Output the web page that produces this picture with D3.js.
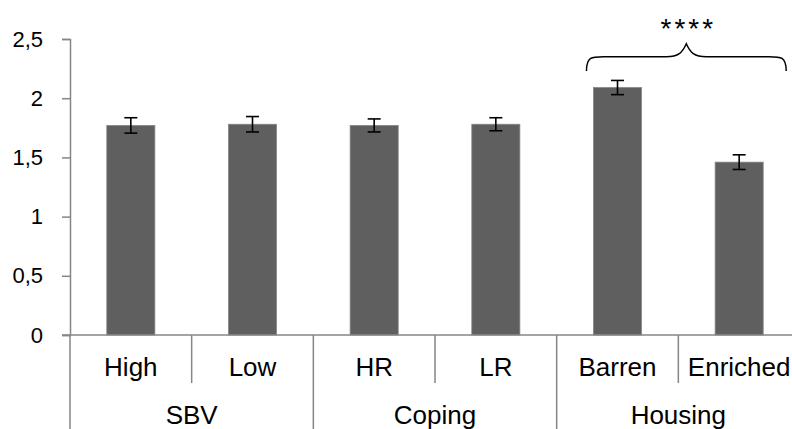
<!DOCTYPE html>
<html>
<head>
<meta charset="utf-8">
<script src="https://cdn.jsdelivr.net/npm/d3@7"></script>
<style>
  body { margin: 0; background: #fff; }
  svg { display: block; }
  .tick text { font-family: "Liberation Sans", Arial, sans-serif; }
</style>
</head>
<body>
<svg id="chart"></svg>
<script>
// chart values
var categories = ["High", "Low", "HR", "LR", "Barren", "Enriched"];
var groups = ["SBV", "SBV", "Coping", "Coping", "Housing", "Housing"];
var groupNames = ["SBV", "Coping", "Housing"];
var means = [1.77, 1.78, 1.77, 1.78, 2.09, 1.46];
var errors = [0.065, 0.065, 0.055, 0.055, 0.06, 0.062];
var yTicks = [0, 0.5, 1, 1.5, 2, 2.5];
var sigLabel = "****";

var width = 792, height = 429;
var margin = { left: 70, right: -8, top: 39, bottom: 94 };

var svg = d3.select("#chart").attr("width", width).attr("height", height);

var x = d3.scaleBand()
  .domain(categories)
  .range([margin.left, width - margin.right])
  .padding(0);
var xBar = d3.scaleBand()
  .domain(categories)
  .range([margin.left, width - margin.right])
  .paddingInner(0.605)
  .paddingOuter(0.3025);
var y = d3.scaleLinear()
  .domain([0, 2.5])
  .range([height - margin.bottom, margin.top]);

var axisColor = "#868686";
var labelFont = "Liberation Sans, Arial, sans-serif";

// y axis
var yAxis = svg.append("g")
  .attr("transform", `translate(${margin.left},0)`)
  .call(d3.axisLeft(y).tickValues(yTicks).tickSize(8).tickPadding(19)
    .tickFormat(d => String(d).replace(".", ",")));
yAxis.select(".domain").attr("stroke", axisColor).attr("stroke-width", 1.5);
yAxis.selectAll(".tick line").attr("stroke", axisColor).attr("stroke-width", 1.5);
yAxis.selectAll(".tick text").attr("font-size", 22).attr("fill", "#000");

// bars
svg.append("g").selectAll("rect")
  .data(categories)
  .enter()
  .append("rect")
  .attr("x", d => xBar(d))
  .attr("width", xBar.bandwidth())
  .attr("y", (d, i) => y(means[i]))
  .attr("height", (d, i) => y(0) - y(means[i]))
  .attr("fill", "#5f5f5f")
  .attr("stroke", "#858585")
  .attr("stroke-width", 0.8);

// error bars
var capW = 6.5;
var eb = svg.append("g").attr("stroke", "#000").attr("stroke-width", 1.6);
categories.forEach(function (c, i) {
  var cx = xBar(c) + xBar.bandwidth() / 2;
  var top = y(means[i] + errors[i]), bot = y(means[i] - errors[i]);
  eb.append("line").attr("x1", cx).attr("x2", cx).attr("y1", top).attr("y2", bot);
  eb.append("line").attr("x1", cx - capW).attr("x2", cx + capW).attr("y1", top).attr("y2", top);
  eb.append("line").attr("x1", cx - capW).attr("x2", cx + capW).attr("y1", bot).attr("y2", bot);
});

// x axis baseline
var y0 = y(0);
svg.append("line")
  .attr("x1", margin.left - 8).attr("x2", width + 10)
  .attr("y1", y0).attr("y2", y0)
  .attr("stroke", axisColor).attr("stroke-width", 1.5);

// dividers: short between sub categories, long between groups
var dividers = svg.append("g").attr("stroke", axisColor).attr("stroke-width", 1.5);
categories.forEach(function (c, i) {
  var xx = x(c);
  var isGroupStart = i == 0 || groups[i] != groups[i - 1];
  dividers.append("line")
    .attr("x1", xx).attr("x2", xx)
    .attr("y1", y0).attr("y2", isGroupStart ? height : y0 + 48);
});

// category labels
svg.append("g").selectAll("text")
  .data(categories)
  .enter()
  .append("text")
  .attr("x", d => x(d) + x.bandwidth() / 2)
  .attr("y", 376)
  .attr("text-anchor", "middle")
  .attr("font-family", labelFont)
  .attr("font-size", 26)
  .text(d => d);

// group labels
svg.append("g").selectAll("text")
  .data(groupNames)
  .enter()
  .append("text")
  .attr("x", function (g) {
    var idx = groups.map((d, i) => d == g ? i : -1).filter(i => i >= 0);
    return (x(categories[idx[0]]) + x(categories[idx[idx.length - 1]]) + x.bandwidth()) / 2;
  })
  .attr("y", 424)
  .attr("text-anchor", "middle")
  .attr("font-family", labelFont)
  .attr("font-size", 26)
  .text(d => d);

// significance brace over Housing
var bl = xBar("Barren") - 7;
var br = xBar("Enriched") + xBar.bandwidth() + 23;
var bm = (bl + br) / 2;
var yEnd = y(2.23), yMid = y(2.35), yPeak = y(2.46);
var brace = d3.path();
brace.moveTo(bl, yEnd);
brace.bezierCurveTo(bl, yMid - 1, bl + 6, yMid, bl + 20, yMid);
brace.lineTo(bm - 20, yMid);
brace.bezierCurveTo(bm - 8, yMid, bm - 4, yMid - 4, bm, yPeak);
brace.bezierCurveTo(bm + 4, yMid - 4, bm + 8, yMid, bm + 20, yMid);
brace.lineTo(br - 20, yMid);
brace.bezierCurveTo(br - 6, yMid, br, yMid - 1, br, yEnd);
svg.append("path")
  .attr("d", brace.toString())
  .attr("fill", "none")
  .attr("stroke", "#000")
  .attr("stroke-width", 1.5);

svg.append("text")
  .attr("x", bm + 2)
  .attr("y", 38)
  .attr("text-anchor", "middle")
  .attr("font-family", labelFont)
  .attr("font-size", 28)
  .attr("letter-spacing", 3)
  .text(sigLabel);
</script>
</body>
</html>
